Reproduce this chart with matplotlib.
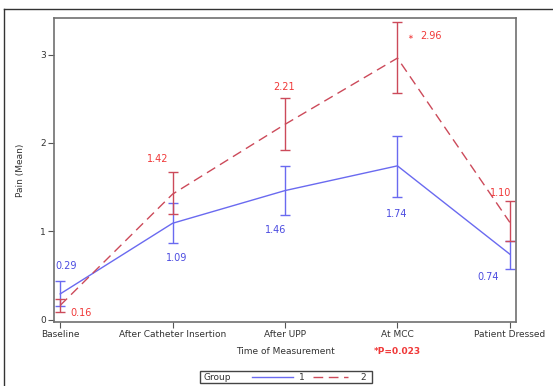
import matplotlib.pyplot as plt
from matplotlib.lines import Line2D
from matplotlib.patches import Rectangle

# dados
momentos = ['Baseline', 'After Catheter Insertion', 'After UPP', 'At MCC', 'Patient Dressed']
media_g1 = [0.29, 1.09, 1.46, 1.74, 0.74]
sup_g1 = [0.44, 1.32, 1.74, 2.08, 0.89]
inf_g1 = [0.15, 0.87, 1.18, 1.39, 0.57]
media_g2 = [0.16, 1.42, 2.21, 2.96, 1.10]
sup_g2 = [0.23, 1.67, 2.51, 3.37, 1.34]
inf_g2 = [0.09, 1.19, 1.92, 2.56, 0.89]
rotulos_g1 = ['0.29', '1.09', '1.46', '1.74', '0.74']
rotulos_g2 = ['0.16', '1.42', '2.21', '2.96', '1.10']

azul = '#6a6af0'
vermelho = '#cc4a5a'
texto_azul = '#4b4be0'
texto_verm = '#f03838'

W, H = 553, 386
fig = plt.figure(figsize=(W / 100, H / 100), dpi=100)
ax = fig.add_axes([54 / W, 1 - 322 / H, (516 - 54) / W, (322 - 18) / H])

x = list(range(len(momentos)))
ax.plot(x, media_g1, color=azul, lw=1)
ax.plot(x, media_g2, color=vermelho, lw=1, dashes=(7, 4))
ax.errorbar(x, media_g1, yerr=[[m - l for m, l in zip(media_g1, inf_g1)],
                               [s - m for m, s in zip(media_g1, sup_g1)]],
            fmt='none', ecolor=azul, elinewidth=1, capsize=3.5, capthick=1)
ax.errorbar(x, media_g2, yerr=[[m - l for m, l in zip(media_g2, inf_g2)],
                               [s - m for m, s in zip(media_g2, sup_g2)]],
            fmt='none', ecolor=vermelho, elinewidth=1, capsize=3.5, capthick=1)

# rotulos dos valores (deslocamentos em pixels)
desl_g1 = [(6, 28), (4, -35), (-9, -39), (-1, -48), (-22, -23)]
desl_g2 = [(21, -8), (-15, 35), (-1, 37), (34, 22), (-9, 29)]
for i in x:
    ax.annotate(rotulos_g1[i], (i, media_g1[i]), xytext=desl_g1[i], textcoords='offset pixels',
                ha='center', va='center', color=texto_azul, fontsize=7)
    ax.annotate(rotulos_g2[i], (i, media_g2[i]), xytext=desl_g2[i], textcoords='offset pixels',
                ha='center', va='center', color=texto_verm, fontsize=7)
# asterisco de significancia no At MCC
ax.annotate('\u2217', (3, media_g2[3]), xytext=(13, 21), textcoords='offset pixels',
            ha='center', va='center', color=texto_verm, fontsize=5)

ax.set_xlim(-0.055, 4.055)
ax.set_ylim(-0.028, 3.414)
ax.set_xticks(x)
ax.set_xticklabels(momentos, fontsize=6.5, color='#333333')
ax.set_yticks([0, 1, 2, 3])
ax.set_yticklabels(['0', '1', '2', '3'], fontsize=6.5, color='#333333')
ax.tick_params(length=4, width=0.8, color='#555555', pad=2)
for s in ax.spines.values():
    s.set_color('#707070')
    s.set_linewidth(1.2)

fig.text(21 / W, 1 - 170 / H, 'Pain (Mean)', rotation=90, ha='center', va='center',
         fontsize=6.5, color='#333333')
fig.text(285 / W, 1 - 352 / H, 'Time of Measurement', ha='center', va='center',
         fontsize=6.5, color='#333333')
fig.text(397 / W, 1 - 352 / H, '*P=0.023', ha='center', va='center',
         fontsize=6.5, color=texto_verm, fontweight='bold')

# legenda desenhada a mao
fig.patches.append(Rectangle((200 / W, 1 - 383 / H), 172 / W, 12 / H, transform=fig.transFigure,
                             fill=False, edgecolor='#444444', lw=1))
fig.text(204 / W, 1 - 377 / H, 'Group', ha='left', va='center', fontsize=6.5, color='#333333')
fig.lines.append(Line2D([252 / W, 293 / W], [1 - 377 / H] * 2, transform=fig.transFigure,
                        color=azul, lw=1))
fig.text(299 / W, 1 - 377 / H, '1', ha='left', va='center', fontsize=6.5, color='#333333')
fig.lines.append(Line2D([313 / W, 348 / W], [1 - 377 / H] * 2, transform=fig.transFigure,
                        color=vermelho, lw=1, dashes=(7, 4)))
fig.text(360 / W, 1 - 377 / H, '2', ha='left', va='center', fontsize=6.5, color='#333333')

# borda externa (recorte)
fig.lines.append(Line2D([4 / W, 1], [1 - 9 / H] * 2, transform=fig.transFigure, color='#333333', lw=1))
fig.lines.append(Line2D([4 / W, 4 / W], [0, 1 - 9 / H], transform=fig.transFigure, color='#333333', lw=1))

fig.savefig('out.png', dpi=100)
